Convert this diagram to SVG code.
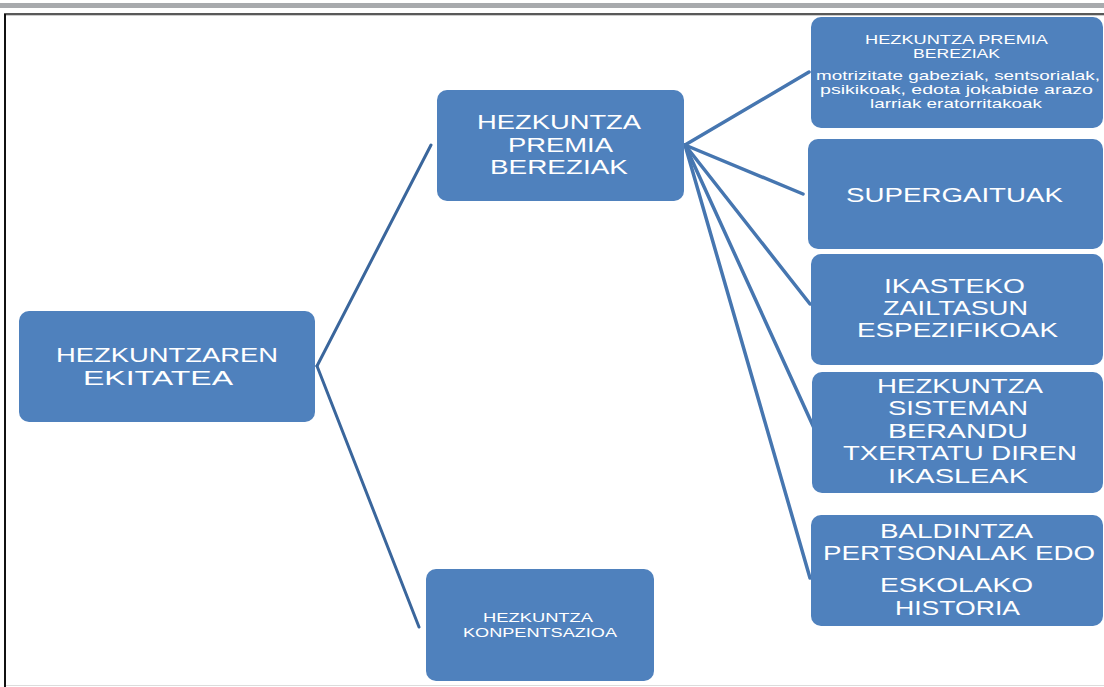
<svg xmlns="http://www.w3.org/2000/svg" width="1104" height="687" viewBox="0 0 1104 687">
<style>
.node{fill:#4f81bd;}
.t{fill:#ffffff;font-family:"Liberation Sans",Arial,sans-serif;}
.big{font-size:21px;}
.big2{font-size:21px;}
.sm{font-size:13.5px;}
.xs{font-size:12px;}
.md{font-size:13.5px;}
.cl{stroke:#3a669c;stroke-width:3;fill:none;stroke-linecap:round;}
.cr{stroke:#4676b0;stroke-width:3.5;fill:none;stroke-linecap:round;}
</style>
<rect x="0" y="0" width="1104" height="687" fill="#ffffff"/>
<rect x="0" y="3" width="1104" height="5" fill="#a8aaad"/>
<line x1="4" y1="14" x2="1104" y2="14" stroke="#222" stroke-width="1.5"/>
<line x1="4" y1="15.5" x2="1104" y2="15.5" stroke="#ccc" stroke-width="1"/>
<line x1="5" y1="14" x2="5" y2="687" stroke="#111" stroke-width="2"/>
<line x1="6" y1="685.5" x2="1104" y2="685.5" stroke="#dcdcdc" stroke-width="1"/>

<g id="connectors">
<line class="cl" x1="317" y1="366" x2="431" y2="145"/>
<line class="cl" x1="317" y1="366" x2="419" y2="627"/>
<line class="cr" x1="685" y1="145" x2="809" y2="72"/>
<line class="cr" x1="685" y1="145" x2="803" y2="194"/>
<line class="cr" x1="685" y1="145" x2="810" y2="304"/>
<line class="cr" x1="685" y1="145" x2="814" y2="428"/>
<line class="cr" x1="685" y1="145" x2="810" y2="578"/>
</g>

<g id="n-root">
<rect class="node" x="19" y="311" width="296" height="111" rx="10"/>
<text class="t big" x="56" y="362" textLength="222" lengthAdjust="spacingAndGlyphs">HEZKUNTZAREN</text>
<text class="t big" x="83" y="385" textLength="150" lengthAdjust="spacingAndGlyphs">EKITATEA</text>
</g>

<g id="n-premia">
<rect class="node" x="437" y="90" width="247" height="111" rx="10"/>
<text class="t big" x="477" y="129" textLength="164" lengthAdjust="spacingAndGlyphs">HEZKUNTZA</text>
<text class="t big" x="508" y="152" textLength="105" lengthAdjust="spacingAndGlyphs">PREMIA</text>
<text class="t big" x="490" y="174" textLength="138" lengthAdjust="spacingAndGlyphs">BEREZIAK</text>
</g>

<g id="n-konpentsazioa">
<rect class="node" x="426" y="569" width="228" height="112" rx="10"/>
<text class="t sm" x="483" y="622" textLength="110" lengthAdjust="spacingAndGlyphs">HEZKUNTZA</text>
<text class="t sm" x="463" y="637" textLength="154" lengthAdjust="spacingAndGlyphs">KONPENTSAZIOA</text>
</g>

<g id="n-hpb">
<rect class="node" x="811" y="17" width="292" height="111" rx="10"/>
<text class="t xs" x="865" y="44" textLength="183" lengthAdjust="spacingAndGlyphs">HEZKUNTZA  PREMIA</text>
<text class="t xs" x="913" y="58" textLength="87" lengthAdjust="spacingAndGlyphs">BEREZIAK</text>
<text class="t md" x="816" y="80" textLength="284" lengthAdjust="spacingAndGlyphs">motrizitate gabeziak, sentsorialak,</text>
<text class="t md" x="820" y="94" textLength="273" lengthAdjust="spacingAndGlyphs">psikikoak, edota jokabide arazo</text>
<text class="t md" x="870" y="108" textLength="172" lengthAdjust="spacingAndGlyphs">larriak eratorritakoak</text>
</g>

<g id="n-supergaituak">
<rect class="node" x="808" y="139" width="295" height="110" rx="10"/>
<text class="t big2" x="846" y="202" textLength="217" lengthAdjust="spacingAndGlyphs">SUPERGAITUAK</text>
</g>

<g id="n-ikasteko">
<rect class="node" x="811" y="254" width="292" height="111" rx="10"/>
<text class="t big2" x="884" y="293" textLength="141" lengthAdjust="spacingAndGlyphs">IKASTEKO</text>
<text class="t big2" x="883" y="315" textLength="145" lengthAdjust="spacingAndGlyphs">ZAILTASUN</text>
<text class="t big2" x="857" y="337" textLength="201" lengthAdjust="spacingAndGlyphs">ESPEZIFIKOAK</text>
</g>

<g id="n-berandu">
<rect class="node" x="812" y="372" width="291" height="121" rx="10"/>
<text class="t big2" x="877" y="393" textLength="166" lengthAdjust="spacingAndGlyphs">HEZKUNTZA</text>
<text class="t big2" x="888" y="415" textLength="140" lengthAdjust="spacingAndGlyphs">SISTEMAN</text>
<text class="t big2" x="888" y="438" textLength="140" lengthAdjust="spacingAndGlyphs">BERANDU</text>
<text class="t big2" x="843" y="460" textLength="234" lengthAdjust="spacingAndGlyphs">TXERTATU  DIREN</text>
<text class="t big2" x="888" y="483" textLength="140" lengthAdjust="spacingAndGlyphs">IKASLEAK</text>
</g>

<g id="n-baldintza">
<rect class="node" x="811" y="515" width="292" height="111" rx="10"/>
<text class="t big2" x="880" y="538" textLength="153" lengthAdjust="spacingAndGlyphs">BALDINTZA</text>
<text class="t big2" x="823" y="560" textLength="272" lengthAdjust="spacingAndGlyphs">PERTSONALAK EDO</text>
<text class="t big2" x="880" y="592" textLength="153" lengthAdjust="spacingAndGlyphs">ESKOLAKO</text>
<text class="t big2" x="895" y="615" textLength="125" lengthAdjust="spacingAndGlyphs">HISTORIA</text>
</g>
</svg>
